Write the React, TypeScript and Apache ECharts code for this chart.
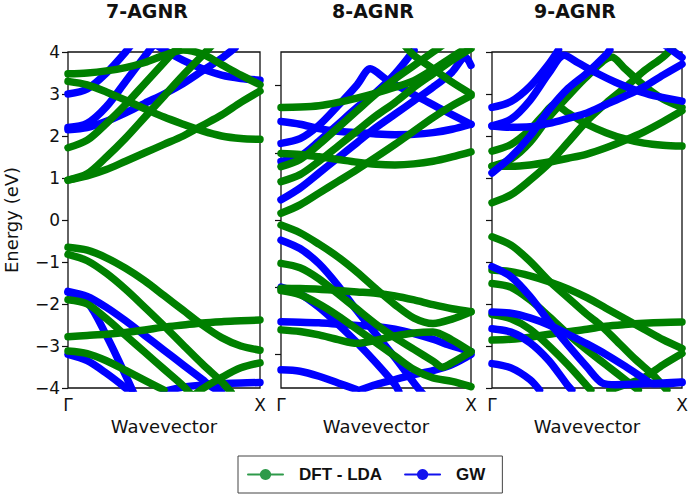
import React, { useEffect, useRef } from "react";
import * as echarts from "echarts";

// ---------- Data: [wavevector (Γ=0 … X=1), energy (eV)] ----------
// 7-AGNR
const agnr7Dft: number[][][] = [
  [[0,0.95],[0.1,1.05],[0.2,1.2],[0.3,1.4],[0.4,1.6],[0.5,1.8],[0.6,2.0],[0.7,2.25],[0.8,2.5],[0.9,2.8],[1,3.07]],
  [[0,0.95],[0.1,1.1],[0.2,1.5],[0.3,1.95],[0.4,2.45],[0.5,2.95],[0.6,3.45],[0.7,3.92],[0.8,4.4]],
  [[0,1.72],[0.1,1.9],[0.2,2.3],[0.3,2.75],[0.4,3.25],[0.5,3.75],[0.55,4.0],[0.6,4.25]],
  [[0,3.3],[0.1,3.22],[0.2,3.05],[0.3,2.85],[0.4,2.65],[0.5,2.45],[0.6,2.28],[0.7,2.12],[0.8,2.0],[0.9,1.94],[1,1.92]],
  [[0,3.48],[0.1,3.5],[0.2,3.55],[0.3,3.63],[0.4,3.75],[0.5,3.92],[0.6,4.05],[0.7,3.95],[0.8,3.7],[0.9,3.45],[1,3.22]],
  [[0,-0.65],[0.1,-0.72],[0.2,-0.9],[0.3,-1.15],[0.4,-1.45],[0.5,-1.8],[0.6,-2.15],[0.7,-2.5],[0.8,-2.8],[0.9,-3.0],[1,-3.1]],
  [[0,-0.82],[0.1,-0.97],[0.2,-1.27],[0.3,-1.65],[0.4,-2.08],[0.5,-2.52],[0.6,-2.98],[0.7,-3.43],[0.8,-3.85],[0.85,-4.1]],
  [[0,-2.78],[0.1,-2.75],[0.2,-2.72],[0.3,-2.68],[0.4,-2.62],[0.5,-2.55],[0.6,-2.5],[0.7,-2.45],[0.8,-2.42],[0.9,-2.4],[1,-2.38]],
  [[0,-1.9],[0.1,-2.0],[0.2,-2.35],[0.3,-2.75],[0.4,-3.15],[0.5,-3.55],[0.6,-3.95],[0.65,-4.2]],
  [[0,-3.12],[0.1,-3.18],[0.2,-3.35],[0.3,-3.58],[0.4,-3.82],[0.5,-4.05]],
  [[0.65,-4.2],[0.7,-4.02],[0.8,-3.75],[0.9,-3.52],[1,-3.4]],
];
const agnr7Gw: number[][][] = [
  [[0,3.0],[0.1,3.12],[0.2,3.5],[0.3,4.0],[0.35,4.3]],
  [[0,2.15],[0.1,2.2],[0.2,2.35],[0.3,2.55],[0.4,2.78],[0.5,3.0],[0.6,3.25],[0.7,3.55],[0.8,3.85],[0.87,4.1]],
  [[0,2.2],[0.1,2.3],[0.2,2.7],[0.3,3.3],[0.4,3.9],[0.45,4.2]],
  [[0.4,4.35],[0.5,4.05],[0.6,3.8],[0.7,3.6],[0.8,3.45],[0.9,3.37],[1,3.33]],
  [[0,-1.7],[0.1,-1.82],[0.2,-2.08],[0.3,-2.4],[0.4,-2.75],[0.5,-3.1],[0.6,-3.45],[0.7,-3.8],[0.75,-3.98],[0.8,-4.1]],
  [[0.5,-4.08],[0.6,-3.98],[0.7,-3.93],[0.8,-3.9],[0.9,-3.88],[1,-3.87]],
  [[0,-1.72],[0.1,-1.95],[0.2,-2.75],[0.3,-3.7],[0.35,-4.2]],
  [[0,-3.2],[0.1,-3.35],[0.2,-3.65],[0.3,-4.0],[0.35,-4.2]],
];

// 8-AGNR (panel drawn on a −5…5 scale)
const agnr8Dft: number[][][] = [
  [[0,0.2],[0.1,0.45],[0.2,0.8],[0.3,1.15],[0.4,1.5],[0.5,1.87],[0.6,2.25],[0.7,2.65],[0.8,3.05],[0.9,3.4],[1,3.7]],
  [[0,1.14],[0.1,1.35],[0.2,1.75],[0.3,2.2],[0.4,2.65],[0.5,3.1],[0.6,3.5],[0.7,3.95],[0.8,4.35],[0.9,4.75],[1,5.1]],
  [[0,1.59],[0.1,1.8],[0.2,2.25],[0.3,2.75],[0.4,3.25],[0.5,3.75],[0.6,4.2],[0.7,4.6],[0.8,5.0],[0.85,5.2]],
  [[0.65,5.2],[0.7,4.9],[0.8,4.5],[0.9,4.1],[1,3.75]],
  [[0,3.35],[0.1,3.36],[0.2,3.4],[0.3,3.5],[0.4,3.63],[0.5,3.78],[0.6,3.95],[0.7,4.15],[0.8,4.48],[0.9,4.85],[1,5.2]],
  [[0,1.98],[0.1,1.95],[0.2,1.88],[0.3,1.8],[0.4,1.72],[0.5,1.66],[0.6,1.64],[0.7,1.67],[0.8,1.75],[0.9,1.88],[1,2.03]],
  [[0,-0.15],[0.1,-0.38],[0.2,-0.72],[0.3,-1.1],[0.4,-1.55],[0.5,-2.05],[0.6,-2.52],[0.7,-2.92],[0.8,-3.08],[0.9,-2.95],[1,-2.73]],
  [[0,-1.29],[0.1,-1.42],[0.2,-1.75],[0.3,-2.2],[0.4,-2.65],[0.5,-3.1],[0.6,-3.5],[0.7,-3.85],[0.8,-4.2],[0.85,-4.38],[0.9,-4.25],[1,-3.92]],
  [[0,-2.1],[0.1,-2.22],[0.2,-2.5],[0.3,-2.85],[0.4,-3.25],[0.5,-3.65],[0.6,-4.05],[0.7,-4.45],[0.8,-4.7],[0.9,-4.8],[1,-4.96]],
  [[0,-3.27],[0.1,-3.32],[0.2,-3.42],[0.3,-3.56],[0.4,-3.67],[0.5,-3.58],[0.6,-3.45],[0.7,-3.36],[0.8,-3.33],[0.9,-3.57],[1,-3.92]],
  [[0,-2.03],[0.1,-2.04],[0.2,-2.06],[0.3,-2.1],[0.4,-2.14],[0.5,-2.18],[0.6,-2.26],[0.7,-2.38],[0.8,-2.52],[0.9,-2.64],[1,-2.73]],
];
const agnr8Gw: number[][][] = [
  [[0,2.28],[0.1,2.42],[0.2,2.82],[0.3,3.4],[0.4,4.02],[0.47,4.5],[0.55,4.2],[0.65,3.88],[0.75,3.58],[0.85,3.28],[1,2.85]],
  [[0,2.93],[0.1,2.85],[0.2,2.72],[0.3,2.64],[0.4,2.6],[0.5,2.56],[0.6,2.54],[0.7,2.55],[0.8,2.6],[0.9,2.7],[1,2.85]],
  [[0,1.74],[0.1,1.9],[0.2,2.35],[0.3,2.85],[0.4,3.35],[0.5,3.8],[0.6,4.35],[0.7,5.05]],
  [[0,0.6],[0.1,0.95],[0.2,1.4],[0.3,1.85],[0.4,2.3],[0.5,2.75],[0.6,3.15],[0.7,3.55],[0.8,3.95],[0.9,4.4],[0.97,4.85],[1,4.6]],
  [[0,-0.6],[0.1,-0.85],[0.2,-1.3],[0.3,-1.95],[0.4,-2.7],[0.5,-3.4],[0.6,-4.1],[0.7,-4.85],[0.75,-5.2]],
  [[0,-2.0],[0.1,-2.2],[0.2,-2.6],[0.3,-3.1],[0.4,-3.65],[0.5,-4.25],[0.6,-4.9],[0.62,-5.1]],
  [[0,-3.03],[0.1,-3.04],[0.2,-3.06],[0.3,-3.1],[0.4,-3.14],[0.5,-3.17],[0.6,-3.25],[0.7,-3.38],[0.8,-3.55],[0.9,-3.75],[1,-3.92]],
  [[0,-4.46],[0.1,-4.5],[0.2,-4.65],[0.3,-4.85],[0.4,-5.05]],
  [[0.42,-5.05],[0.5,-4.9],[0.6,-4.75],[0.7,-4.6],[0.8,-4.48],[0.9,-4.3],[1,-4.0]],
];

// 9-AGNR
const agnr9Dft: number[][][] = [
  [[0,0.41],[0.1,0.6],[0.2,0.95],[0.3,1.35],[0.4,1.85],[0.5,2.36],[0.6,2.78],[0.7,3.15],[0.8,3.55],[0.9,3.88],[0.95,4.1]],
  [[0,1.64],[0.1,1.8],[0.2,2.15],[0.27,2.5],[0.33,2.75],[0.4,2.55],[0.5,2.28],[0.6,2.08],[0.7,1.93],[0.8,1.83],[0.9,1.78],[1,1.76]],
  [[0,1.28],[0.1,1.28],[0.2,1.31],[0.3,1.38],[0.4,1.47],[0.5,1.57],[0.6,1.72],[0.7,1.9],[0.8,2.1],[0.9,2.34],[1,2.6]],
  [[0,1.28],[0.1,1.45],[0.2,1.85],[0.3,2.45],[0.4,2.95],[0.5,3.42],[0.63,3.88],[0.7,3.6],[0.8,3.2],[0.9,2.88],[1,2.68]],
  [[0,-0.4],[0.1,-0.6],[0.2,-0.98],[0.3,-1.45],[0.4,-1.85],[0.5,-2.25],[0.57,-2.5],[0.65,-2.85],[0.75,-3.3],[0.85,-3.7],[0.92,-4.05]],
  [[0,-2.86],[0.1,-2.84],[0.2,-2.79],[0.3,-2.72],[0.4,-2.66],[0.5,-2.6],[0.6,-2.53],[0.7,-2.49],[0.8,-2.46],[0.9,-2.44],[1,-2.43]],
  [[0,-1.19],[0.1,-1.23],[0.2,-1.33],[0.3,-1.47],[0.4,-1.64],[0.5,-1.85],[0.6,-2.1],[0.7,-2.35],[0.8,-2.6],[0.9,-2.85],[1,-3.06]],
  [[0,-1.51],[0.1,-1.6],[0.2,-1.9],[0.3,-2.3],[0.4,-2.72],[0.5,-3.1],[0.6,-3.45],[0.7,-3.8],[0.77,-4.05]],
  [[0,-2.25],[0.1,-2.35],[0.2,-2.6],[0.3,-3.0],[0.4,-3.45],[0.5,-3.95],[0.52,-4.05]],
  [[0.62,-4.05],[0.7,-3.92],[0.8,-3.75],[0.9,-3.45],[1,-3.18]],
];
const agnr9Gw: number[][][] = [
  [[0,2.68],[0.1,2.82],[0.2,3.18],[0.3,3.72],[0.35,4.05]],
  [[0,2.24],[0.1,2.4],[0.2,2.85],[0.3,3.5],[0.38,3.92],[0.45,3.75],[0.55,3.5],[0.65,3.28],[0.75,3.1],[0.85,2.96],[1,2.83]],
  [[0,2.24],[0.1,2.21],[0.2,2.22],[0.3,2.3],[0.4,2.42],[0.5,2.55],[0.6,2.75],[0.7,2.95],[0.8,3.17],[0.9,3.45],[1,3.71]],
  [[0,1.12],[0.1,1.5],[0.2,2.0],[0.3,2.62],[0.4,3.13],[0.5,3.5],[0.6,3.93],[0.62,4.05]],
  [[0.9,4.2],[0.96,4.0],[1,3.87]],
  [[0,-1.11],[0.1,-1.35],[0.2,-1.82],[0.3,-2.42],[0.4,-2.98],[0.5,-3.5],[0.58,-3.88],[0.65,-3.92],[0.8,-3.9],[0.9,-3.88],[1,-3.86]],
  [[0,-2.19],[0.1,-2.22],[0.2,-2.33],[0.3,-2.5],[0.4,-2.72],[0.5,-2.95],[0.6,-3.2],[0.7,-3.48],[0.8,-3.78],[0.85,-3.9],[0.9,-3.9],[1,-3.87]],
  [[0,-2.59],[0.1,-2.67],[0.2,-2.92],[0.3,-3.35],[0.4,-3.95],[0.42,-4.05]],
  [[0,-3.42],[0.1,-3.52],[0.2,-3.8],[0.25,-4.05]],
];

const panelTitles = ["7-AGNR", "8-AGNR", "9-AGNR"];
const xTickLabels = ["Γ", "X"];
const seriesNames = ["DFT - LDA", "GW"];

// ---------- Styling ----------
const GREEN = "#008000";
const BLUE = "#0000ff";
const LEG_GREEN = "#2e9a4a";
const LEG_BLUE = "#1212ee";
const SANS = "DejaVu Sans";
const ARIAL = "Liberation Sans";

const grids = [
  { left: 68, top: 52, width: 192, height: 336 },
  { left: 281, top: 52, width: 190, height: 336 },
  { left: 492, top: 52, width: 190, height: 336 },
];
const titleX = [147, 373, 575];

function makeSeries(name: string, color: string, bands: number[][][], idx: number, z: number) {
  return bands.map((data) => ({
    type: "line",
    name,
    data,
    xAxisIndex: idx,
    yAxisIndex: idx,
    smooth: 0.3,
    showSymbol: false,
    symbol: "circle",
    symbolSize: 9,
    lineStyle: { width: 7.5, color, cap: "round", join: "round" },
    itemStyle: { color },
    clip: true,
    silent: true,
    z,
  }));
}

export default function App() {
  const ref = useRef<HTMLDivElement>(null);
  useEffect(() => {
    if (!ref.current) return;
    const chart = echarts.init(ref.current, undefined, { renderer: "svg" });

    const xAxes = grids.map((_, i) => ({
      type: "value",
      gridIndex: i,
      min: 0,
      max: 1,
      interval: 1,
      axisLine: { show: false },
      axisTick: { show: false },
      splitLine: { show: false },
      axisLabel: {
        formatter: (v: number) => (v === 0 ? xTickLabels[0] : xTickLabels[1]),
        fontFamily: SANS,
        fontSize: 17,
        color: "#111",
        margin: 8,
        showMinLabel: true,
        showMaxLabel: true,
      },
      name: "Wavevector",
      nameLocation: "middle",
      nameGap: 27,
      nameTextStyle: { fontFamily: SANS, fontSize: 18, color: "#111" },
    }));

    const yAxes = [
      {
        type: "value",
        gridIndex: 0,
        min: -4,
        max: 4,
        interval: 1,
        axisLine: { show: false },
        axisTick: { show: true, length: 6, lineStyle: { color: "#111", width: 1.2 } },
        splitLine: { show: false },
        axisLabel: {
          formatter: (v: number) => String(v).replace("-", "\u2212"),
          fontFamily: SANS,
          fontSize: 17,
          color: "#111",
          margin: 8,
        },
        name: "Energy (eV)",
        nameLocation: "middle",
        nameGap: 48,
        nameTextStyle: { fontFamily: SANS, fontSize: 18, color: "#111" },
      },
      {
        type: "value",
        gridIndex: 1,
        min: -5,
        max: 5,
        axisLine: { show: false },
        axisTick: { show: true, length: 6, customValues: [-4, -2, 0, 2, 4], lineStyle: { color: "#111", width: 1.2 } },
        splitLine: { show: false },
        axisLabel: { show: false },
      },
      {
        type: "value",
        gridIndex: 2,
        min: -4,
        max: 4,
        interval: 1,
        axisLine: { show: false },
        axisTick: { show: true, length: 6, lineStyle: { color: "#111", width: 1.2 } },
        splitLine: { show: false },
        axisLabel: { show: false },
      },
    ];

    const series = [
      ...makeSeries(seriesNames[1], BLUE, agnr7Gw, 0, 2),
      ...makeSeries(seriesNames[0], GREEN, agnr7Dft, 0, 3),
      ...makeSeries(seriesNames[1], BLUE, agnr8Gw, 1, 2),
      ...makeSeries(seriesNames[0], GREEN, agnr8Dft, 1, 3),
      ...makeSeries(seriesNames[0], GREEN, agnr9Dft, 2, 2),
      ...makeSeries(seriesNames[1], BLUE, agnr9Gw, 2, 3),
    ];

    chart.setOption({
      animation: false,
      backgroundColor: "#ffffff",
      grid: grids.map((g) => ({
        ...g,
        show: true,
        borderColor: "#111",
        borderWidth: 1.3,
        backgroundColor: "transparent",
      })),
      xAxis: xAxes,
      yAxis: yAxes,
      graphic: panelTitles.map((t, i) => ({
        type: "text",
        x: titleX[i],
        y: 11,
        style: {
          text: t,
          fontFamily: SANS,
          fontWeight: "bold",
          fontSize: 19,
          fill: "#111",
          align: "center",
          verticalAlign: "middle",
        },
      })),
      legend: {
        left: 238,
        top: 456,
        orient: "horizontal",
        padding: [10, 17, 10, 9],
        itemGap: 22,
        itemWidth: 35,
        itemHeight: 14,
        borderColor: "#444",
        borderWidth: 1,
        borderRadius: 0,
        backgroundColor: "#fff",
        selectedMode: false,
        textStyle: {
          fontFamily: ARIAL,
          fontWeight: "bold",
          fontSize: 17,
          color: "#111",
          padding: [0, 0, 0, 11],
        },
        data: [
          { name: seriesNames[0], itemStyle: { color: LEG_GREEN }, lineStyle: { color: LEG_GREEN, width: 2 } },
          { name: seriesNames[1], itemStyle: { color: LEG_BLUE }, lineStyle: { color: LEG_BLUE, width: 2 } },
        ],
      },
      series,
    });

    return () => {
      chart.dispose();
    };
  }, []);

  return (
    <div
      ref={ref}
      style={{ position: "absolute", left: 0, top: 0, width: 692, height: 500 }}
    />
  );
}
